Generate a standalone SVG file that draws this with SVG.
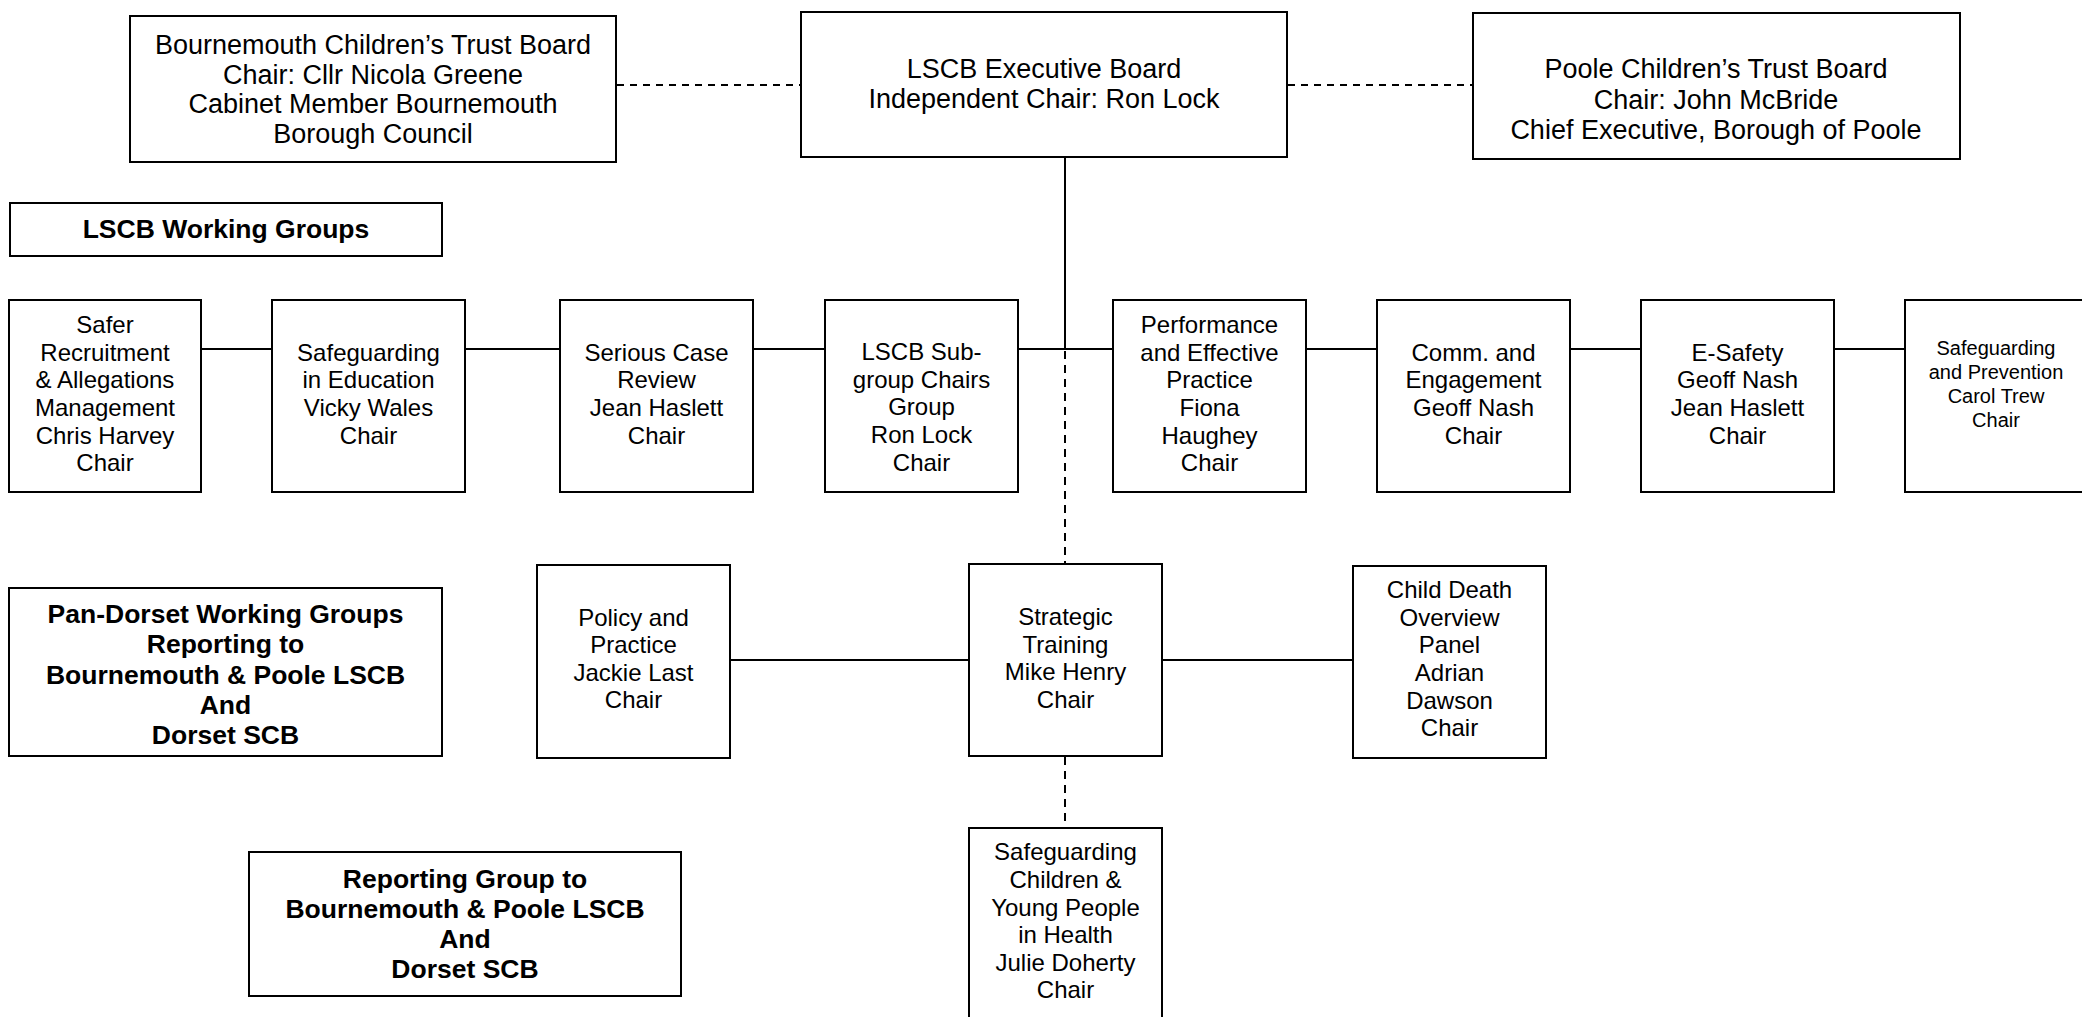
<svg xmlns="http://www.w3.org/2000/svg" width="2082" height="1017" viewBox="0 0 2082 1017">
<style>
rect.box{fill:#fff;stroke:#000;stroke-width:2}
.t{font-family:"Liberation Sans",Arial,sans-serif;fill:#000;text-anchor:middle}
.big{font-size:27px}
.mid{font-size:24px}
.sm{font-size:20px}
.b{font-size:26.5px;font-weight:bold}
.solid{stroke:#000;stroke-width:2;fill:none}
.dash{stroke:#000;stroke-width:2;fill:none;stroke-dasharray:7 6}
.vdash{stroke:#000;stroke-width:2;fill:none;stroke-dasharray:8 6}
</style>
<rect width="2082" height="1017" fill="#fff"/>
<g id="connectors">
<line class="dash" x1="617" y1="85" x2="800" y2="85"/>
<line class="dash" x1="1288" y1="85" x2="1472" y2="85"/>
<line class="solid" x1="1065" y1="157" x2="1065" y2="349"/>
<line class="vdash" x1="1065" y1="351" x2="1065" y2="564"/>
<line class="vdash" x1="1065" y1="757" x2="1065" y2="828"/>
<line class="solid" x1="201" y1="349" x2="272" y2="349"/>
<line class="solid" x1="465" y1="349" x2="560" y2="349"/>
<line class="solid" x1="753" y1="349" x2="825" y2="349"/>
<line class="solid" x1="1018" y1="349" x2="1113" y2="349"/>
<line class="solid" x1="1306" y1="349" x2="1377" y2="349"/>
<line class="solid" x1="1570" y1="349" x2="1641" y2="349"/>
<line class="solid" x1="1834" y1="349" x2="1905" y2="349"/>
<line class="solid" x1="730" y1="660" x2="969" y2="660"/>
<line class="solid" x1="1162" y1="660" x2="1353" y2="660"/>
</g>
<g id="bournemouth-trust">
<rect class="box" x="130" y="16" width="486" height="146"/>
<text class="t big" x="373" y="54">Bournemouth Children’s Trust Board</text>
<text class="t big" x="373" y="84">Chair: Cllr Nicola Greene</text>
<text class="t big" x="373" y="113">Cabinet Member Bournemouth</text>
<text class="t big" x="373" y="143">Borough Council</text>
</g>
<g id="lscb-exec">
<rect class="box" x="801" y="12" width="486" height="145"/>
<text class="t big" x="1044" y="78">LSCB Executive Board</text>
<text class="t big" x="1044" y="108">Independent Chair: Ron Lock</text>
</g>
<g id="poole-trust">
<rect class="box" x="1473" y="13" width="487" height="146"/>
<text class="t big" x="1716" y="78">Poole Children’s Trust Board</text>
<text class="t big" x="1716" y="109">Chair: John McBride</text>
<text class="t big" x="1716" y="139">Chief Executive, Borough of Poole</text>
</g>
<g id="wg-label">
<rect class="box" x="10" y="203" width="432" height="53"/>
<text class="t b" x="226" y="238">LSCB Working Groups</text>
</g>
<g id="safer-recruitment">
<rect class="box" x="9" y="300" width="192" height="192"/>
<text class="t mid" x="105" y="333">Safer</text>
<text class="t mid" x="105" y="361">Recruitment</text>
<text class="t mid" x="105" y="388">&amp; Allegations</text>
<text class="t mid" x="105" y="416">Management</text>
<text class="t mid" x="105" y="444">Chris Harvey</text>
<text class="t mid" x="105" y="471">Chair</text>
</g>
<g id="safeguarding-education">
<rect class="box" x="272" y="300" width="193" height="192"/>
<text class="t mid" x="368.5" y="361">Safeguarding</text>
<text class="t mid" x="368.5" y="388">in Education</text>
<text class="t mid" x="368.5" y="416">Vicky Wales</text>
<text class="t mid" x="368.5" y="444">Chair</text>
</g>
<g id="serious-case-review">
<rect class="box" x="560" y="300" width="193" height="192"/>
<text class="t mid" x="656.5" y="361">Serious Case</text>
<text class="t mid" x="656.5" y="388">Review</text>
<text class="t mid" x="656.5" y="416">Jean Haslett</text>
<text class="t mid" x="656.5" y="444">Chair</text>
</g>
<g id="subgroup-chairs">
<rect class="box" x="825" y="300" width="193" height="192"/>
<text class="t mid" x="921.5" y="360">LSCB Sub-</text>
<text class="t mid" x="921.5" y="388">group Chairs</text>
<text class="t mid" x="921.5" y="415">Group</text>
<text class="t mid" x="921.5" y="443">Ron Lock</text>
<text class="t mid" x="921.5" y="471">Chair</text>
</g>
<g id="performance">
<rect class="box" x="1113" y="300" width="193" height="192"/>
<text class="t mid" x="1209.5" y="333">Performance</text>
<text class="t mid" x="1209.5" y="361">and Effective</text>
<text class="t mid" x="1209.5" y="388">Practice</text>
<text class="t mid" x="1209.5" y="416">Fiona</text>
<text class="t mid" x="1209.5" y="444">Haughey</text>
<text class="t mid" x="1209.5" y="471">Chair</text>
</g>
<g id="comm-engagement">
<rect class="box" x="1377" y="300" width="193" height="192"/>
<text class="t mid" x="1473.5" y="361">Comm. and</text>
<text class="t mid" x="1473.5" y="388">Engagement</text>
<text class="t mid" x="1473.5" y="416">Geoff Nash</text>
<text class="t mid" x="1473.5" y="444">Chair</text>
</g>
<g id="e-safety">
<rect class="box" x="1641" y="300" width="193" height="192"/>
<text class="t mid" x="1737.5" y="361">E-Safety</text>
<text class="t mid" x="1737.5" y="388">Geoff Nash</text>
<text class="t mid" x="1737.5" y="416">Jean Haslett</text>
<text class="t mid" x="1737.5" y="444">Chair</text>
</g>
<g id="safeguarding-prevention">
<rect class="box" x="1905" y="300" width="192" height="192"/>
<text class="t sm" x="1996" y="355">Safeguarding</text>
<text class="t sm" x="1996" y="379">and Prevention</text>
<text class="t sm" x="1996" y="403">Carol Trew</text>
<text class="t sm" x="1996" y="427">Chair</text>
</g>
<g id="pan-dorset-label">
<rect class="box" x="9" y="588" width="433" height="168"/>
<text class="t b" x="225.5" y="623">Pan-Dorset Working Groups</text>
<text class="t b" x="225.5" y="653">Reporting to</text>
<text class="t b" x="225.5" y="684">Bournemouth &amp; Poole LSCB</text>
<text class="t b" x="225.5" y="714">And</text>
<text class="t b" x="225.5" y="744">Dorset SCB</text>
</g>
<g id="policy-practice">
<rect class="box" x="537" y="565" width="193" height="193"/>
<text class="t mid" x="633.5" y="626">Policy and</text>
<text class="t mid" x="633.5" y="653">Practice</text>
<text class="t mid" x="633.5" y="681">Jackie Last</text>
<text class="t mid" x="633.5" y="708">Chair</text>
</g>
<g id="strategic-training">
<rect class="box" x="969" y="564" width="193" height="192"/>
<text class="t mid" x="1065.5" y="625">Strategic</text>
<text class="t mid" x="1065.5" y="653">Training</text>
<text class="t mid" x="1065.5" y="680">Mike Henry</text>
<text class="t mid" x="1065.5" y="708">Chair</text>
</g>
<g id="child-death">
<rect class="box" x="1353" y="566" width="193" height="192"/>
<text class="t mid" x="1449.5" y="598">Child Death</text>
<text class="t mid" x="1449.5" y="626">Overview</text>
<text class="t mid" x="1449.5" y="653">Panel</text>
<text class="t mid" x="1449.5" y="681">Adrian</text>
<text class="t mid" x="1449.5" y="709">Dawson</text>
<text class="t mid" x="1449.5" y="736">Chair</text>
</g>
<g id="reporting-label">
<rect class="box" x="249" y="852" width="432" height="144"/>
<text class="t b" x="465" y="888">Reporting Group to</text>
<text class="t b" x="465" y="918">Bournemouth &amp; Poole LSCB</text>
<text class="t b" x="465" y="948">And</text>
<text class="t b" x="465" y="978">Dorset SCB</text>
</g>
<g id="safeguarding-health">
<rect class="box" x="969" y="828" width="193" height="200"/>
<text class="t mid" x="1065.5" y="860">Safeguarding</text>
<text class="t mid" x="1065.5" y="888">Children &amp;</text>
<text class="t mid" x="1065.5" y="916">Young People</text>
<text class="t mid" x="1065.5" y="943">in Health</text>
<text class="t mid" x="1065.5" y="971">Julie Doherty</text>
<text class="t mid" x="1065.5" y="998">Chair</text>
</g>
</svg>
